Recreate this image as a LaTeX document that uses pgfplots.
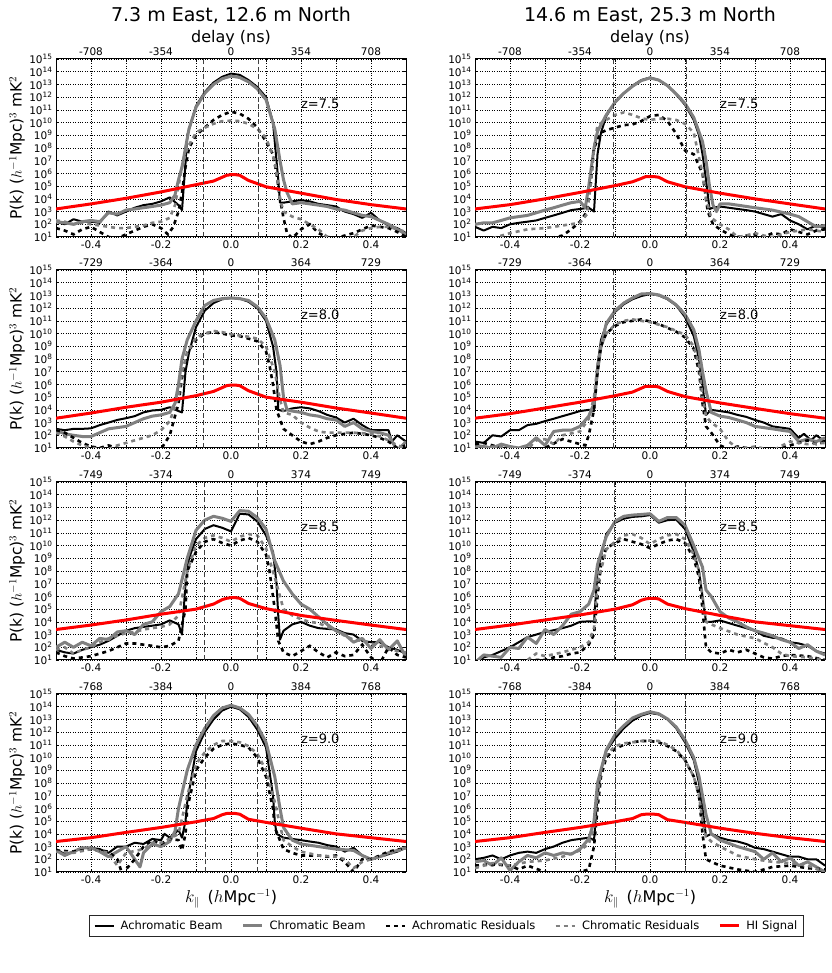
\documentclass[border=0pt]{standalone}
\usepackage{fontspec}
\setmainfont{DejaVu Sans}
\usepackage{pgfplots}
\pgfplotsset{compat=1.18}
\definecolor{mgray}{rgb}{0.5,0.5,0.5}
\pgfplotsset{legend image code/.code={\draw[#1] (0pt,0pt) -- (19pt,0pt);}}
\tikzset{
  sAB/.style={black, line width=2pt, line join=round},
  sCB/.style={mgray, line width=3pt, line join=round},
  sAR/.style={black, line width=2.6pt, dash pattern=on 4pt off 4pt},
  sCR/.style={mgray, line width=2.6pt, dash pattern=on 4pt off 4pt},
  sHI/.style={red, line width=3pt, line join=round},
  sVL/.style={black!75, line width=0.7pt, dash pattern=on 5pt off 2.5pt},
}

\begin{document}
\begin{tikzpicture}
\path[use as bounding box] (0pt,0pt) rectangle (831pt,973pt);

% ================= row 1 left, z = 7.5 =================
\begin{axis}[scale only axis, width=350pt, height=178pt, name=A1, at={(56pt,736pt)}, xmin=-0.5, xmax=0.5, ymode=log, ymin=10, ymax=1e15, xtick={-0.4,-0.3,-0.2,-0.1,0,0.1,0.2,0.3,0.4}, xticklabels={-0.4,,-0.2,,0.0,,0.2,,0.4}, ytick={1e1,1e2,1e3,1e4,1e5,1e6,1e7,1e8,1e9,1e10,1e11,1e12,1e13,1e14,1e15}, yticklabels={10\textsuperscript{1},10\textsuperscript{2},10\textsuperscript{3},10\textsuperscript{4},10\textsuperscript{5},10\textsuperscript{6},10\textsuperscript{7},10\textsuperscript{8},10\textsuperscript{9},10\textsuperscript{10},10\textsuperscript{11},10\textsuperscript{12},10\textsuperscript{13},10\textsuperscript{14},10\textsuperscript{15}}, xmajorgrids, ymajorgrids, major grid style={black, line width=0.5pt, dash pattern=on 0.8pt off 1.6pt}, axis line style={black, line width=1pt}, tick style={black, line width=0.6pt}, major tick length=3pt, minor y tick style={draw=none}, tick label style={font=\fontsize{10.5}{12}\selectfont}]
\addplot[sAB] coordinates {(-0.5,1.6e2) (-0.475,1e2) (-0.45,2.5e2) (-0.425,1.6e2) (-0.4,1.6e2) (-0.375,1.3e2) (-0.35,1e3) (-0.325,5e2) (-0.3,1e3) (-0.275,2e3) (-0.25,3.2e3) (-0.225,4e3) (-0.2,6.3e3) (-0.175,1.3e4) (-0.15,3.2e3) (-0.14,1.3e3) (-0.13,6.3e6) (-0.125,1e9) (-0.1,2e11) (-0.075,2.5e12) (-0.05,1.4e13) (-0.025,4e13) (0,7.1e13) (0.025,5.6e13) (0.05,2.2e13) (0.075,6.3e12) (0.1,1e12) (0.12,1e10) (0.13,1e7) (0.135,3.2e5) (0.14,5e3) (0.15,5e3) (0.175,6.3e3) (0.2,8e3) (0.225,6.3e3) (0.25,4e3) (0.275,3.2e3) (0.3,2.5e3) (0.325,1e3) (0.35,6.3e2) (0.375,3.2e2) (0.4,8e2) (0.425,2e2) (0.45,8e1) (0.475,5e1) (0.5,2e1)};
\addplot[sCB] coordinates {(-0.5,1.6e2) (-0.475,1.3e2) (-0.45,1e2) (-0.425,1.6e2) (-0.4,2e2) (-0.375,1.6e2) (-0.35,8e2) (-0.325,6.3e2) (-0.3,1.3e3) (-0.275,1.6e3) (-0.25,2e3) (-0.225,2.5e3) (-0.2,3.2e3) (-0.175,5e3) (-0.16,2e4) (-0.15,3.2e5) (-0.14,3.2e6) (-0.13,1e8) (-0.12,3.2e9) (-0.1,1.6e11) (-0.075,2e12) (-0.05,1e13) (-0.025,2.8e13) (0,4.5e13) (0.025,3.5e13) (0.05,1.6e13) (0.075,4.5e12) (0.1,6.3e11) (0.125,3.2e9) (0.14,1e7) (0.15,3.2e5) (0.16,3.2e4) (0.175,4e3) (0.2,5e3) (0.225,4e3) (0.25,3.2e3) (0.275,2.5e3) (0.3,1.6e3) (0.325,1.3e3) (0.35,8e2) (0.375,5e2) (0.4,4e2) (0.425,2e2) (0.45,1e2) (0.475,4e1) (0.5,1.6e1)};
\addplot[sAR] coordinates {(-0.5,5e1) (-0.475,3.2e1) (-0.45,1.6e1) (-0.425,4e1) (-0.4,6.3e1) (-0.375,2.5e1) (-0.35,1e1) (-0.325,8) (-0.3,1.6e1) (-0.275,3.2e1) (-0.25,6.3e1) (-0.225,1e2) (-0.2,5e1) (-0.18,1.6e1) (-0.165,6.3e1) (-0.15,1e3) (-0.14,3.2e4) (-0.13,3.2e6) (-0.12,1e8) (-0.1,1e9) (-0.075,4e9) (-0.05,1.6e10) (-0.025,4e10) (0,7.1e10) (0.025,5e10) (0.05,2e10) (0.075,4e9) (0.1,3.2e8) (0.12,3.2e7) (0.13,1e6) (0.14,1e4) (0.15,3.2e2) (0.16,2e1) (0.175,8) (0.2,4e1) (0.225,1e2) (0.25,2e1) (0.275,1e1) (0.3,8) (0.325,1.3e1) (0.35,2e1) (0.375,4e1) (0.4,8e1) (0.425,6.3e1) (0.45,5e1) (0.475,2.5e1) (0.5,1e1)};
\addplot[sCR] coordinates {(-0.5,2e2) (-0.475,1.6e2) (-0.45,1e2) (-0.425,1.3e2) (-0.4,1e2) (-0.375,8e1) (-0.35,6.3e1) (-0.325,5e1) (-0.3,5e1) (-0.275,6.3e1) (-0.25,8e1) (-0.225,1.3e2) (-0.2,1.6e2) (-0.175,3.2e2) (-0.16,3.2e3) (-0.15,1e5) (-0.14,3.2e6) (-0.125,1e8) (-0.1,1.6e9) (-0.075,4e9) (-0.05,8e9) (-0.025,1.3e10) (0,1.4e10) (0.025,1.3e10) (0.05,8e9) (0.075,3.2e9) (0.1,6.3e8) (0.125,1e7) (0.14,1e4) (0.15,1e3) (0.175,4e2) (0.2,2.5e2) (0.225,1e2) (0.25,4e1) (0.275,1e1) (0.3,6.3) (0.325,6.3) (0.35,1e1) (0.375,3.2e1) (0.4,5e1) (0.425,6.3e1) (0.45,6.3e1) (0.475,4e1) (0.5,2.5e1)};
\addplot[sHI] coordinates {(-0.5,1.6e3) (-0.4,4e3) (-0.3,1.1e4) (-0.2,3.5e4) (-0.1,1.3e5) (-0.05,2.5e5) (-0.025,5e5) (-0.0125,7.1e5) (0,8e5) (0.0125,8e5) (0.025,7.1e5) (0.05,2.8e5) (0.1,8.9e4) (0.2,2.8e4) (0.3,8.9e3) (0.4,3.5e3) (0.5,1.6e3)};
\addplot[sVL, forget plot] coordinates {(-0.079,10) (-0.079,1e15)};
\addplot[sVL, forget plot] coordinates {(0.079,10) (0.079,1e15)};
\node[font=\fontsize{13}{15}\selectfont] at (axis cs:0.255,3.2e11) {z=7.5};
\end{axis}
\begin{axis}[scale only axis, width=350pt, height=178pt, at={(56pt,736pt)}, xmin=-0.5, xmax=0.5, ymin=0, ymax=1, axis x line*=top, hide y axis, x axis line style={draw=none}, xtick={-0.4,-0.2,0,0.2,0.4}, xticklabels={-708,-354,0,354,708}, xtick style={draw=none}, tick label style={font=\fontsize{10.5}{12}\selectfont}]
\end{axis}

% ================= row 1 right, z = 7.5 =================
\begin{axis}[scale only axis, width=350pt, height=178pt, name=A2, at={(475pt,736pt)}, xmin=-0.5, xmax=0.5, ymode=log, ymin=10, ymax=1e15, xtick={-0.4,-0.3,-0.2,-0.1,0,0.1,0.2,0.3,0.4}, xticklabels={-0.4,,-0.2,,0.0,,0.2,,0.4}, ytick={1e1,1e2,1e3,1e4,1e5,1e6,1e7,1e8,1e9,1e10,1e11,1e12,1e13,1e14,1e15}, yticklabels={10\textsuperscript{1},10\textsuperscript{2},10\textsuperscript{3},10\textsuperscript{4},10\textsuperscript{5},10\textsuperscript{6},10\textsuperscript{7},10\textsuperscript{8},10\textsuperscript{9},10\textsuperscript{10},10\textsuperscript{11},10\textsuperscript{12},10\textsuperscript{13},10\textsuperscript{14},10\textsuperscript{15}}, xmajorgrids, ymajorgrids, major grid style={black, line width=0.5pt, dash pattern=on 0.8pt off 1.6pt}, axis line style={black, line width=1pt}, tick style={black, line width=0.6pt}, major tick length=3pt, minor y tick style={draw=none}, tick label style={font=\fontsize{10.5}{12}\selectfont}]
\addplot[sAB] coordinates {(-0.5,6.3e1) (-0.475,3.2e1) (-0.45,6.3e1) (-0.425,5e1) (-0.4,1e2) (-0.375,1.3e2) (-0.35,1.6e2) (-0.325,2e2) (-0.3,3.2e2) (-0.275,5e2) (-0.25,8e2) (-0.225,1.3e3) (-0.2,1.6e3) (-0.175,2e3) (-0.16,1e3) (-0.15,3.2e7) (-0.14,1.6e9) (-0.125,3.2e10) (-0.1,4e11) (-0.075,2e12) (-0.05,8e12) (-0.025,2.2e13) (0,3.5e13) (0.025,2.2e13) (0.05,8e12) (0.075,1.6e12) (0.1,2.5e11) (0.125,1.6e10) (0.14,1e9) (0.15,3.2e7) (0.16,3.2e5) (0.17,1.6e3) (0.18,2e3) (0.2,2.5e3) (0.225,2e3) (0.25,1.6e3) (0.275,1.3e3) (0.3,1e3) (0.325,6.3e2) (0.35,4e2) (0.375,6.3e2) (0.4,2e2) (0.425,1e2) (0.45,4e1) (0.475,8e1) (0.5,5e1)};
\addplot[sCB] coordinates {(-0.5,1e2) (-0.475,1.3e2) (-0.45,1.3e2) (-0.425,2e2) (-0.4,3.2e2) (-0.375,4e2) (-0.35,5e2) (-0.325,8e2) (-0.3,1.3e3) (-0.275,2e3) (-0.25,3.2e3) (-0.225,5e3) (-0.2,6.3e3) (-0.185,2e3) (-0.175,1e5) (-0.16,1e8) (-0.15,2e9) (-0.125,4e10) (-0.1,4e11) (-0.075,2e12) (-0.05,7.1e12) (-0.025,2e13) (0,3.2e13) (0.025,2.2e13) (0.05,8e12) (0.075,1.8e12) (0.1,3.2e11) (0.125,2.5e10) (0.15,3.2e8) (0.16,1e7) (0.17,1e5) (0.18,3.2e3) (0.19,1e3) (0.2,4e3) (0.225,4e3) (0.25,3.2e3) (0.3,2e3) (0.35,1.3e3) (0.4,6.3e2) (0.425,4e2) (0.45,1.6e2) (0.475,6.3e1) (0.5,8e1)};
\addplot[sAR] coordinates {(-0.35,4) (-0.3,6.3) (-0.25,1.3e1) (-0.225,4e1) (-0.2,1.6e2) (-0.18,1e3) (-0.17,1e5) (-0.16,1e8) (-0.14,1.6e9) (-0.125,2.5e9) (-0.1,4e9) (-0.075,6.3e9) (-0.05,7.1e9) (-0.025,1.3e10) (0,3.2e10) (0.025,4e10) (0.05,1.3e10) (0.075,1.3e9) (0.1,6.3e7) (0.125,3.2e7) (0.15,1e6) (0.165,1e3) (0.18,1e2) (0.2,4e1) (0.225,1.6e1) (0.25,1e1) (0.275,1.3e1) (0.3,1.6e1) (0.325,1e1) (0.35,2e1) (0.375,1.6e1) (0.4,4e1) (0.425,2.5e1) (0.45,1.6e1) (0.475,3.2e1) (0.5,4e1)};
\addplot[sCR] coordinates {(-0.45,8) (-0.4,2e1) (-0.35,4e1) (-0.3,5e1) (-0.25,8e1) (-0.2,1.3e2) (-0.18,6.3e2) (-0.17,1e5) (-0.16,1e8) (-0.15,6.3e9) (-0.125,1.6e10) (-0.1,4e10) (-0.075,6.3e10) (-0.05,4e10) (-0.025,2.2e10) (0,1.6e10) (0.025,2e10) (0.05,2e10) (0.075,1.6e10) (0.1,8e9) (0.125,1.6e9) (0.15,1e6) (0.16,1e4) (0.175,3.2e2) (0.2,1e2) (0.225,4e1) (0.25,1e1) (0.275,1.3e1) (0.3,2e1) (0.325,1.3e1) (0.35,1e1) (0.4,2.5e1) (0.45,4e1) (0.5,2.5e1)};
\addplot[sHI] coordinates {(-0.5,1.6e3) (-0.4,3.5e3) (-0.3,1e4) (-0.2,3.2e4) (-0.1,1.1e5) (-0.05,2.2e5) (-0.025,4e5) (-0.0125,5.6e5) (0,5.6e5) (0.0125,5.6e5) (0.025,5e5) (0.05,2.2e5) (0.1,8.9e4) (0.2,2.8e4) (0.3,1e4) (0.4,4e3) (0.5,1.6e3)};
\addplot[sVL, forget plot] coordinates {(-0.104,10) (-0.104,1e15)};
\addplot[sVL, forget plot] coordinates {(0.104,10) (0.104,1e15)};
\node[font=\fontsize{13}{15}\selectfont] at (axis cs:0.255,3.2e11) {z=7.5};
\end{axis}
\begin{axis}[scale only axis, width=350pt, height=178pt, at={(475pt,736pt)}, xmin=-0.5, xmax=0.5, ymin=0, ymax=1, axis x line*=top, hide y axis, x axis line style={draw=none}, xtick={-0.4,-0.2,0,0.2,0.4}, xticklabels={-708,-354,0,354,708}, xtick style={draw=none}, tick label style={font=\fontsize{10.5}{12}\selectfont}]
\end{axis}

% ================= row 2 left, z = 8.0 =================
\begin{axis}[scale only axis, width=350pt, height=178pt, name=A3, at={(56pt,525pt)}, xmin=-0.5, xmax=0.5, ymode=log, ymin=10, ymax=1e15, xtick={-0.4,-0.3,-0.2,-0.1,0,0.1,0.2,0.3,0.4}, xticklabels={-0.4,,-0.2,,0.0,,0.2,,0.4}, ytick={1e1,1e2,1e3,1e4,1e5,1e6,1e7,1e8,1e9,1e10,1e11,1e12,1e13,1e14,1e15}, yticklabels={10\textsuperscript{1},10\textsuperscript{2},10\textsuperscript{3},10\textsuperscript{4},10\textsuperscript{5},10\textsuperscript{6},10\textsuperscript{7},10\textsuperscript{8},10\textsuperscript{9},10\textsuperscript{10},10\textsuperscript{11},10\textsuperscript{12},10\textsuperscript{13},10\textsuperscript{14},10\textsuperscript{15}}, xmajorgrids, ymajorgrids, major grid style={black, line width=0.5pt, dash pattern=on 0.8pt off 1.6pt}, axis line style={black, line width=1pt}, tick style={black, line width=0.6pt}, major tick length=3pt, minor y tick style={draw=none}, tick label style={font=\fontsize{10.5}{12}\selectfont}]
\addplot[sAB] coordinates {(-0.5,3.2e2) (-0.475,2.5e2) (-0.45,3.2e2) (-0.425,3.2e2) (-0.4,3.5e2) (-0.375,6.3e2) (-0.35,1e3) (-0.325,1.6e3) (-0.3,2.2e3) (-0.275,3.2e3) (-0.25,6.3e3) (-0.225,8.9e3) (-0.2,1e4) (-0.175,1.6e4) (-0.15,8e3) (-0.14,6.3e3) (-0.13,1e7) (-0.12,3.2e8) (-0.1,3.2e10) (-0.075,6.3e11) (-0.05,2.5e12) (-0.025,5e12) (0,6.3e12) (0.025,5.6e12) (0.05,3.2e12) (0.075,1e12) (0.1,1e11) (0.12,1e9) (0.13,1e7) (0.135,1e4) (0.15,8e3) (0.175,1.3e4) (0.2,1.6e4) (0.225,1.3e4) (0.25,8e3) (0.275,4e3) (0.3,2.5e3) (0.325,1e3) (0.35,2e3) (0.375,6.3e2) (0.4,2.5e2) (0.425,2.5e2) (0.45,2.5e2) (0.46,3.2e1) (0.475,1e2) (0.5,3.2e1)};
\addplot[sCB] coordinates {(-0.5,2.5e2) (-0.475,1.3e2) (-0.45,1e2) (-0.425,8e1) (-0.4,8e1) (-0.375,1.6e2) (-0.35,3.2e2) (-0.325,4e2) (-0.3,5e2) (-0.275,1e3) (-0.25,2e3) (-0.225,3.2e3) (-0.2,4e3) (-0.175,6.3e3) (-0.16,3.2e4) (-0.15,1e6) (-0.14,1e8) (-0.125,3.2e9) (-0.1,1e11) (-0.075,1.6e12) (-0.05,4e12) (-0.025,5.6e12) (0,6.3e12) (0.025,5.6e12) (0.05,4e12) (0.075,1.3e12) (0.1,1.6e11) (0.125,3.2e9) (0.14,3.2e7) (0.15,1e5) (0.16,1e4) (0.175,8e3) (0.2,6.3e3) (0.225,4e3) (0.25,3.2e3) (0.275,2e3) (0.3,1.6e3) (0.325,5e2) (0.35,1e3) (0.375,3.2e2) (0.4,2e2) (0.425,1.6e2) (0.45,1e2) (0.475,6.3) (0.5,3.2e1)};
\addplot[sAR] coordinates {(-0.5,2.5e2) (-0.475,1.6e2) (-0.45,6.3e1) (-0.425,2.5e1) (-0.4,1.3e1) (-0.375,1e1) (-0.35,1.6e1) (-0.325,1e1) (-0.3,6.3) (-0.25,8) (-0.2,8) (-0.175,1e2) (-0.15,3.2e4) (-0.14,3.2e6) (-0.125,3.2e8) (-0.1,3.2e9) (-0.075,1e10) (-0.05,1.3e10) (-0.025,1e10) (0,7.1e9) (0.025,6.3e9) (0.05,4e9) (0.075,2.5e9) (0.1,4e8) (0.11,3.2e7) (0.12,1e6) (0.13,1e4) (0.15,3.2e2) (0.175,1e2) (0.2,3.2e1) (0.225,2e1) (0.25,3.2e1) (0.275,6.3e1) (0.3,1e2) (0.325,1.3e2) (0.35,1.6e2) (0.375,1.3e2) (0.4,1e2) (0.425,6.3e1) (0.45,3.2e1) (0.475,1e1) (0.5,1.6e1)};
\addplot[sCR] coordinates {(-0.5,1.6e2) (-0.475,8e1) (-0.45,3.2e1) (-0.425,1.6e1) (-0.4,1e1) (-0.35,8) (-0.325,1.6e1) (-0.3,2.5e1) (-0.275,4e1) (-0.25,6.3e1) (-0.225,1e2) (-0.2,2.5e2) (-0.175,1.3e3) (-0.15,1e5) (-0.14,1e7) (-0.125,3.2e8) (-0.1,5e9) (-0.075,1e10) (-0.05,1.6e10) (-0.025,1.3e10) (0,8.9e9) (0.025,7.1e9) (0.05,5.6e9) (0.075,4e9) (0.1,1e9) (0.125,1e7) (0.14,6.3e4) (0.15,6.3e3) (0.175,4e3) (0.2,1e3) (0.225,4e2) (0.25,2e2) (0.275,1.6e2) (0.3,1.6e2) (0.35,1.6e2) (0.4,1.3e2) (0.425,8e1) (0.45,4e1) (0.475,1.6e1) (0.5,1e1)};
\addplot[sHI] coordinates {(-0.5,2.2e3) (-0.4,5.6e3) (-0.3,1.6e4) (-0.2,4e4) (-0.1,1.3e5) (-0.05,2.8e5) (-0.025,5.6e5) (-0.0125,8e5) (0,8.9e5) (0.0125,8.9e5) (0.025,8e5) (0.05,3.2e5) (0.1,1e5) (0.2,4e4) (0.3,1.4e4) (0.4,5.6e3) (0.5,2.2e3)};
\addplot[sVL, forget plot] coordinates {(-0.078,10) (-0.078,1e15)};
\addplot[sVL, forget plot] coordinates {(0.078,10) (0.078,1e15)};
\node[font=\fontsize{13}{15}\selectfont] at (axis cs:0.255,3.2e11) {z=8.0};
\end{axis}
\begin{axis}[scale only axis, width=350pt, height=178pt, at={(56pt,525pt)}, xmin=-0.5, xmax=0.5, ymin=0, ymax=1, axis x line*=top, hide y axis, x axis line style={draw=none}, xtick={-0.4,-0.2,0,0.2,0.4}, xticklabels={-729,-364,0,364,729}, xtick style={draw=none}, tick label style={font=\fontsize{10.5}{12}\selectfont}]
\end{axis}

% ================= row 2 right, z = 8.0 =================
\begin{axis}[scale only axis, width=350pt, height=178pt, name=A4, at={(475pt,525pt)}, xmin=-0.5, xmax=0.5, ymode=log, ymin=10, ymax=1e15, xtick={-0.4,-0.3,-0.2,-0.1,0,0.1,0.2,0.3,0.4}, xticklabels={-0.4,,-0.2,,0.0,,0.2,,0.4}, ytick={1e1,1e2,1e3,1e4,1e5,1e6,1e7,1e8,1e9,1e10,1e11,1e12,1e13,1e14,1e15}, yticklabels={10\textsuperscript{1},10\textsuperscript{2},10\textsuperscript{3},10\textsuperscript{4},10\textsuperscript{5},10\textsuperscript{6},10\textsuperscript{7},10\textsuperscript{8},10\textsuperscript{9},10\textsuperscript{10},10\textsuperscript{11},10\textsuperscript{12},10\textsuperscript{13},10\textsuperscript{14},10\textsuperscript{15}}, xmajorgrids, ymajorgrids, major grid style={black, line width=0.5pt, dash pattern=on 0.8pt off 1.6pt}, axis line style={black, line width=1pt}, tick style={black, line width=0.6pt}, major tick length=3pt, minor y tick style={draw=none}, tick label style={font=\fontsize{10.5}{12}\selectfont}]
\addplot[sAB] coordinates {(-0.5,3.2e1) (-0.475,2.5e1) (-0.45,1e2) (-0.425,8e1) (-0.4,2.5e2) (-0.375,2.5e2) (-0.35,6.3e2) (-0.325,8e2) (-0.3,1.3e3) (-0.275,2e3) (-0.25,3.2e3) (-0.225,5e3) (-0.2,8e3) (-0.175,1e4) (-0.16,8e3) (-0.15,3.2e7) (-0.14,3.2e9) (-0.125,5e10) (-0.1,5e11) (-0.075,2e12) (-0.05,5e12) (-0.025,8.9e12) (0,1.3e13) (0.025,1e13) (0.05,5e12) (0.075,1.6e12) (0.1,2e11) (0.125,6.3e9) (0.14,1e8) (0.15,1e6) (0.16,4e3) (0.175,1e4) (0.2,8e3) (0.225,6.3e3) (0.25,4e3) (0.275,2.8e3) (0.3,1.6e3) (0.325,1e3) (0.35,5e2) (0.375,4e2) (0.4,3.2e2) (0.425,6.3e1) (0.44,1.3e2) (0.46,4e1) (0.475,1e2) (0.5,3.2e1)};
\addplot[sCB] coordinates {(-0.5,1.6e1) (-0.475,1.3e1) (-0.45,1e1) (-0.425,2e1) (-0.4,1.3e1) (-0.375,1e1) (-0.35,1.6e1) (-0.325,6.3e1) (-0.3,1.6e1) (-0.275,2e2) (-0.25,2.5e2) (-0.225,2.5e2) (-0.2,5e2) (-0.175,3.2e3) (-0.16,3.2e4) (-0.15,1e7) (-0.14,1e9) (-0.125,6.3e10) (-0.1,6.3e11) (-0.075,2.5e12) (-0.05,6.3e12) (-0.025,1.3e13) (0,1.4e13) (0.025,1.1e13) (0.05,5.6e12) (0.075,1.8e12) (0.1,3.2e11) (0.125,2e10) (0.14,5e8) (0.15,1e7) (0.16,3.2e5) (0.175,6.3e3) (0.2,3.2e3) (0.225,2.5e3) (0.25,1.6e3) (0.275,1e3) (0.3,5e2) (0.325,4e2) (0.35,3.2e2) (0.375,2.5e2) (0.4,2e2) (0.425,3.2e1) (0.45,5e1) (0.475,3.2e1) (0.5,6.3e1)};
\addplot[sAR] coordinates {(-0.5,2e1) (-0.475,2.5e1) (-0.45,1.6e1) (-0.425,1e1) (-0.4,8) (-0.35,6.3) (-0.3,1e1) (-0.25,5e1) (-0.225,3.2e1) (-0.2,2e1) (-0.185,1.6e1) (-0.175,1e2) (-0.16,1e4) (-0.15,1e7) (-0.14,1e9) (-0.125,1e10) (-0.1,4e10) (-0.075,8e10) (-0.05,1e11) (-0.025,1.3e11) (0,8.9e10) (0.025,5.6e10) (0.05,2.8e10) (0.075,1.4e10) (0.1,5e9) (0.125,6.3e8) (0.14,1e7) (0.15,3.2e4) (0.16,5e2) (0.175,1.6e2) (0.2,1.6e1) (0.225,8) (0.25,1.3e1) (0.275,1e1) (0.3,1e1) (0.35,6.3) (0.4,1.6e1) (0.45,4e1) (0.475,2e1) (0.5,3.2e1)};
\addplot[sCR] coordinates {(-0.5,1e1) (-0.45,1.3e1) (-0.4,1e1) (-0.35,8) (-0.325,4e1) (-0.3,5e1) (-0.275,2e1) (-0.25,1e2) (-0.2,2e2) (-0.175,2e3) (-0.16,1e5) (-0.15,3.2e7) (-0.14,1e9) (-0.125,1e10) (-0.1,5e10) (-0.075,1e11) (-0.05,1.3e11) (-0.025,1e11) (0,8e10) (0.025,5e10) (0.05,3.2e10) (0.075,1.6e10) (0.1,8e9) (0.125,1e9) (0.14,3.2e7) (0.15,1e5) (0.16,3.2e3) (0.175,1e3) (0.2,3.2e2) (0.225,3.2e1) (0.25,1e1) (0.275,1e1) (0.3,1.3e1) (0.35,6.3) (0.4,3.2e1) (0.45,2e1) (0.5,2.5e1)};
\addplot[sHI] coordinates {(-0.5,2.2e3) (-0.4,5e3) (-0.3,1.4e4) (-0.2,4e4) (-0.1,1.3e5) (-0.05,2.5e5) (-0.025,5e5) (-0.0125,7.1e5) (0,7.1e5) (0.0125,7.1e5) (0.025,6.3e5) (0.05,2.8e5) (0.1,1.1e5) (0.2,3.5e4) (0.3,1.3e4) (0.4,5e3) (0.5,2.2e3)};
\addplot[sVL, forget plot] coordinates {(-0.104,10) (-0.104,1e15)};
\addplot[sVL, forget plot] coordinates {(0.104,10) (0.104,1e15)};
\node[font=\fontsize{13}{15}\selectfont] at (axis cs:0.255,3.2e11) {z=8.0};
\end{axis}
\begin{axis}[scale only axis, width=350pt, height=178pt, at={(475pt,525pt)}, xmin=-0.5, xmax=0.5, ymin=0, ymax=1, axis x line*=top, hide y axis, x axis line style={draw=none}, xtick={-0.4,-0.2,0,0.2,0.4}, xticklabels={-729,-364,0,364,729}, xtick style={draw=none}, tick label style={font=\fontsize{10.5}{12}\selectfont}]
\end{axis}

% ================= row 3 left, z = 8.5 =================
\begin{axis}[scale only axis, width=350pt, height=178pt, name=A5, at={(56pt,313pt)}, xmin=-0.5, xmax=0.5, ymode=log, ymin=10, ymax=1e15, xtick={-0.4,-0.3,-0.2,-0.1,0,0.1,0.2,0.3,0.4}, xticklabels={-0.4,,-0.2,,0.0,,0.2,,0.4}, ytick={1e1,1e2,1e3,1e4,1e5,1e6,1e7,1e8,1e9,1e10,1e11,1e12,1e13,1e14,1e15}, yticklabels={10\textsuperscript{1},10\textsuperscript{2},10\textsuperscript{3},10\textsuperscript{4},10\textsuperscript{5},10\textsuperscript{6},10\textsuperscript{7},10\textsuperscript{8},10\textsuperscript{9},10\textsuperscript{10},10\textsuperscript{11},10\textsuperscript{12},10\textsuperscript{13},10\textsuperscript{14},10\textsuperscript{15}}, xmajorgrids, ymajorgrids, major grid style={black, line width=0.5pt, dash pattern=on 0.8pt off 1.6pt}, axis line style={black, line width=1pt}, tick style={black, line width=0.6pt}, major tick length=3pt, minor y tick style={draw=none}, tick label style={font=\fontsize{10.5}{12}\selectfont}]
\addplot[sAB] coordinates {(-0.5,6.3e1) (-0.475,4e1) (-0.45,3.2e1) (-0.425,6.3e1) (-0.4,1e2) (-0.375,1.6e2) (-0.35,3.2e2) (-0.325,8e2) (-0.3,2e3) (-0.275,3.2e3) (-0.25,4e3) (-0.225,5e3) (-0.2,6.3e3) (-0.175,1.3e4) (-0.15,6.3e3) (-0.14,1e3) (-0.13,1e7) (-0.12,1e9) (-0.1,3.2e10) (-0.075,2e11) (-0.05,4e11) (-0.025,2.5e11) (0,1.3e11) (0.025,3.2e12) (0.05,2.8e12) (0.075,8e11) (0.1,6.3e10) (0.12,3.2e9) (0.13,1e7) (0.135,3.2e4) (0.14,4e2) (0.15,2e3) (0.175,6.3e3) (0.2,1e4) (0.225,5e3) (0.25,3.2e3) (0.275,2.8e3) (0.3,2.5e3) (0.325,1.3e3) (0.35,1e3) (0.375,3.2e2) (0.4,2.5e2) (0.425,2.5e2) (0.45,1e2) (0.475,6.3e1) (0.5,3.2e1)};
\addplot[sCB] coordinates {(-0.5,1e2) (-0.475,2.5e2) (-0.45,1e2) (-0.425,2.5e2) (-0.4,1.3e2) (-0.375,5e2) (-0.35,4e2) (-0.325,1.6e3) (-0.3,2e3) (-0.275,1e3) (-0.25,6.3e3) (-0.225,1e4) (-0.2,6.3e4) (-0.175,1.6e5) (-0.15,1.6e6) (-0.125,1e9) (-0.1,1.6e11) (-0.075,1e12) (-0.05,2e12) (-0.025,1.4e12) (0,8e11) (0.025,5.6e12) (0.05,5e12) (0.075,1.6e12) (0.1,2e11) (0.125,6.3e8) (0.15,1.6e7) (0.175,1.6e6) (0.2,2.5e5) (0.225,1e5) (0.25,2.5e4) (0.275,6.3e3) (0.3,2e3) (0.325,1e3) (0.35,2.5e2) (0.375,5e2) (0.4,8e1) (0.425,4e2) (0.45,6.3e1) (0.475,3.2e2) (0.5,1.6e1)};
\addplot[sAR] coordinates {(-0.5,4e1) (-0.475,2e1) (-0.45,1.3e1) (-0.425,1.6e1) (-0.4,2e1) (-0.375,3.2e1) (-0.35,5e1) (-0.325,1e2) (-0.3,2e2) (-0.275,2e2) (-0.25,1.6e2) (-0.225,1.3e2) (-0.2,1e2) (-0.175,1.3e2) (-0.15,3.2e2) (-0.13,1e5) (-0.125,1e8) (-0.1,3.2e9) (-0.075,2e10) (-0.05,3.2e10) (-0.025,1.6e10) (0,1e10) (0.025,2.5e10) (0.05,4e10) (0.075,2e10) (0.1,2e9) (0.11,1e8) (0.125,1e5) (0.135,3.2e2) (0.15,4e1) (0.175,2e1) (0.2,5e1) (0.225,1.3e2) (0.25,4e1) (0.275,1.6e1) (0.3,4e1) (0.325,2e1) (0.35,2.5e1) (0.375,1.6e2) (0.4,1.6e1) (0.425,5) (0.45,1e2) (0.475,2.5e1) (0.5,1.6e1)};
\addplot[sCR] coordinates {(-0.5,6.3e1) (-0.475,1e2) (-0.45,3.2e1) (-0.425,6.3e1) (-0.4,1e2) (-0.375,2.5e2) (-0.35,5e2) (-0.325,8e2) (-0.3,1.3e3) (-0.275,1.6e3) (-0.25,2.5e3) (-0.225,3.2e3) (-0.2,4e3) (-0.175,6.3e3) (-0.15,3.2e4) (-0.125,1e8) (-0.1,1e10) (-0.075,4e10) (-0.05,6.3e10) (-0.025,4e10) (0,2e10) (0.025,5e10) (0.05,8e10) (0.075,6.3e10) (0.1,6.3e9) (0.125,3.2e7) (0.15,1e5) (0.175,3.2e4) (0.2,1.6e4) (0.225,1e4) (0.25,8e3) (0.275,4e3) (0.3,2e3) (0.325,8e2) (0.35,4e2) (0.375,3.2e2) (0.4,2e2) (0.425,1.3e2) (0.45,8e1) (0.475,5e1) (0.5,4e1)};
\addplot[sHI] coordinates {(-0.5,2.5e3) (-0.4,5.6e3) (-0.3,1.4e4) (-0.2,4e4) (-0.1,1e5) (-0.05,2.5e5) (-0.025,5.6e5) (-0.0125,7.1e5) (0,8e5) (0.0125,8e5) (0.025,7.1e5) (0.05,2.8e5) (0.1,1.1e5) (0.2,3.2e4) (0.3,1.3e4) (0.4,5.6e3) (0.5,2.5e3)};
\addplot[sVL, forget plot] coordinates {(-0.076,10) (-0.076,1e15)};
\addplot[sVL, forget plot] coordinates {(0.076,10) (0.076,1e15)};
\node[font=\fontsize{13}{15}\selectfont] at (axis cs:0.255,3.2e11) {z=8.5};
\end{axis}
\begin{axis}[scale only axis, width=350pt, height=178pt, at={(56pt,313pt)}, xmin=-0.5, xmax=0.5, ymin=0, ymax=1, axis x line*=top, hide y axis, x axis line style={draw=none}, xtick={-0.4,-0.2,0,0.2,0.4}, xticklabels={-749,-374,0,374,749}, xtick style={draw=none}, tick label style={font=\fontsize{10.5}{12}\selectfont}]
\end{axis}

% ================= row 3 right, z = 8.5 =================
\begin{axis}[scale only axis, width=350pt, height=178pt, name=A6, at={(475pt,313pt)}, xmin=-0.5, xmax=0.5, ymode=log, ymin=10, ymax=1e15, xtick={-0.4,-0.3,-0.2,-0.1,0,0.1,0.2,0.3,0.4}, xticklabels={-0.4,,-0.2,,0.0,,0.2,,0.4}, ytick={1e1,1e2,1e3,1e4,1e5,1e6,1e7,1e8,1e9,1e10,1e11,1e12,1e13,1e14,1e15}, yticklabels={10\textsuperscript{1},10\textsuperscript{2},10\textsuperscript{3},10\textsuperscript{4},10\textsuperscript{5},10\textsuperscript{6},10\textsuperscript{7},10\textsuperscript{8},10\textsuperscript{9},10\textsuperscript{10},10\textsuperscript{11},10\textsuperscript{12},10\textsuperscript{13},10\textsuperscript{14},10\textsuperscript{15}}, xmajorgrids, ymajorgrids, major grid style={black, line width=0.5pt, dash pattern=on 0.8pt off 1.6pt}, axis line style={black, line width=1pt}, tick style={black, line width=0.6pt}, major tick length=3pt, minor y tick style={draw=none}, tick label style={font=\fontsize{10.5}{12}\selectfont}]
\addplot[sAB] coordinates {(-0.5,6.3) (-0.475,1.6e1) (-0.45,2.5e1) (-0.425,5e1) (-0.4,1e2) (-0.375,2.5e2) (-0.35,6.3e2) (-0.325,1e3) (-0.3,1.6e3) (-0.275,2.2e3) (-0.25,3.2e3) (-0.225,5e3) (-0.2,1e4) (-0.175,1.1e4) (-0.16,1.1e4) (-0.15,1e8) (-0.125,8e10) (-0.1,6.3e11) (-0.075,1.3e12) (-0.05,1.8e12) (-0.025,2e12) (0,2.5e12) (0.025,6.3e11) (0.05,1e12) (0.075,1.1e12) (0.1,2e11) (0.125,3.2e9) (0.14,1e8) (0.15,1e6) (0.16,1e4) (0.175,1e4) (0.2,1.3e4) (0.225,8e3) (0.25,5e3) (0.275,3.2e3) (0.3,2e3) (0.325,8e2) (0.35,5.6e2) (0.375,5e2) (0.4,2.5e2) (0.425,2e2) (0.45,1.3e2) (0.475,5e1) (0.5,3.2e1)};
\addplot[sCB] coordinates {(-0.5,6.3) (-0.475,2.5e1) (-0.45,2e1) (-0.425,1.6e1) (-0.4,1e2) (-0.375,8e1) (-0.35,6.3e2) (-0.325,2e2) (-0.3,2.5e3) (-0.275,1e3) (-0.25,5e3) (-0.225,4e4) (-0.2,6.3e4) (-0.175,2.5e5) (-0.16,3.2e6) (-0.15,3.2e8) (-0.125,5e10) (-0.1,8e11) (-0.075,2e12) (-0.05,2.5e12) (-0.025,2.8e12) (0,3.2e12) (0.025,8e11) (0.05,1.6e12) (0.075,1.6e12) (0.1,4e11) (0.125,1e10) (0.15,2e8) (0.16,3.2e6) (0.175,1e6) (0.2,6.3e4) (0.225,2e4) (0.25,1e4) (0.275,4e3) (0.3,2e3) (0.325,1.3e3) (0.35,8e2) (0.375,4e2) (0.4,2.5e2) (0.425,8e1) (0.45,1.6e2) (0.475,5e1) (0.5,2.5e1)};
\addplot[sAR] coordinates {(-0.35,8) (-0.325,1e1) (-0.3,1e1) (-0.275,1.6e1) (-0.25,2e1) (-0.225,3.2e1) (-0.2,4e1) (-0.175,1.6e2) (-0.16,1e3) (-0.15,1e6) (-0.14,3.2e8) (-0.125,6.3e9) (-0.1,1.6e10) (-0.075,3.2e10) (-0.05,2e10) (-0.025,1.3e10) (0,6.3e9) (0.025,1.3e10) (0.05,2.5e10) (0.075,3.2e10) (0.1,1.6e10) (0.125,1e9) (0.14,3.2e7) (0.15,1e5) (0.16,1e2) (0.175,4e1) (0.2,3.2e1) (0.225,6.3e1) (0.25,4e1) (0.275,6.3e1) (0.3,3.2e1) (0.325,1.6e1) (0.35,1.3e1) (0.375,2e1) (0.4,2.5e1) (0.45,2e1) (0.5,1e1)};
\addplot[sCR] coordinates {(-0.35,1e1) (-0.325,3.2e1) (-0.3,2e1) (-0.25,4e1) (-0.2,1e2) (-0.175,2.5e2) (-0.16,3.2e3) (-0.15,1e7) (-0.125,5e9) (-0.1,2e10) (-0.075,6.3e10) (-0.05,8e10) (-0.025,4e10) (0,1.3e10) (0.025,3.2e10) (0.05,6.3e10) (0.075,8e10) (0.1,3.2e10) (0.125,2e9) (0.14,1e8) (0.15,1e6) (0.16,1e4) (0.175,6.3e3) (0.2,3.2e3) (0.25,1e3) (0.3,5e2) (0.35,1e2) (0.375,3.2e1) (0.4,2e1) (0.45,1.6e1) (0.5,1e1)};
\addplot[sHI] coordinates {(-0.5,2.5e3) (-0.4,5.6e3) (-0.3,1.4e4) (-0.2,3.5e4) (-0.1,1e5) (-0.05,2.2e5) (-0.025,5e5) (-0.0125,6.3e5) (0,7.1e5) (0.0125,7.1e5) (0.025,6.3e5) (0.05,2.5e5) (0.1,1.1e5) (0.2,3.2e4) (0.3,1e4) (0.4,5e3) (0.5,2.5e3)};
\addplot[sVL, forget plot] coordinates {(-0.101,10) (-0.101,1e15)};
\addplot[sVL, forget plot] coordinates {(0.101,10) (0.101,1e15)};
\node[font=\fontsize{13}{15}\selectfont] at (axis cs:0.255,3.2e11) {z=8.5};
\end{axis}
\begin{axis}[scale only axis, width=350pt, height=178pt, at={(475pt,313pt)}, xmin=-0.5, xmax=0.5, ymin=0, ymax=1, axis x line*=top, hide y axis, x axis line style={draw=none}, xtick={-0.4,-0.2,0,0.2,0.4}, xticklabels={-749,-374,0,374,749}, xtick style={draw=none}, tick label style={font=\fontsize{10.5}{12}\selectfont}]
\end{axis}

% ================= row 4 left, z = 9.0 =================
\begin{axis}[scale only axis, width=350pt, height=178pt, name=A7, at={(56pt,101pt)}, xmin=-0.5, xmax=0.5, ymode=log, ymin=10, ymax=1e15, xtick={-0.4,-0.3,-0.2,-0.1,0,0.1,0.2,0.3,0.4}, xticklabels={-0.4,,-0.2,,0.0,,0.2,,0.4}, ytick={1e1,1e2,1e3,1e4,1e5,1e6,1e7,1e8,1e9,1e10,1e11,1e12,1e13,1e14,1e15}, yticklabels={10\textsuperscript{1},10\textsuperscript{2},10\textsuperscript{3},10\textsuperscript{4},10\textsuperscript{5},10\textsuperscript{6},10\textsuperscript{7},10\textsuperscript{8},10\textsuperscript{9},10\textsuperscript{10},10\textsuperscript{11},10\textsuperscript{12},10\textsuperscript{13},10\textsuperscript{14},10\textsuperscript{15}}, xmajorgrids, ymajorgrids, major grid style={black, line width=0.5pt, dash pattern=on 0.8pt off 1.6pt}, axis line style={black, line width=1pt}, tick style={black, line width=0.6pt}, major tick length=3pt, minor y tick style={draw=none}, tick label style={font=\fontsize{10.5}{12}\selectfont},
  legend columns=5,
  legend style={at={(1.1157,-0.303)}, anchor=center, font=\fontsize{11.5}{13.5}\selectfont, draw=black!85, line width=0.8pt, inner xsep=4pt, inner ysep=3pt, /tikz/every odd column/.append style={column sep=4pt}, /tikz/every even column/.append style={column sep=17pt}}]
\addplot[sAB] coordinates {(-0.5,6.3e2) (-0.475,2.5e2) (-0.45,4e2) (-0.425,8e2) (-0.4,8e2) (-0.375,6.3e2) (-0.35,3.2e2) (-0.325,1e3) (-0.3,1e3) (-0.275,2e3) (-0.25,1.6e3) (-0.225,4e3) (-0.2,3.2e3) (-0.19,1e4) (-0.175,5e3) (-0.15,2e4) (-0.14,5e3) (-0.13,1e5) (-0.125,3.2e6) (-0.1,3.2e10) (-0.075,1e12) (-0.05,1e13) (-0.025,5e13) (0,1e14) (0.025,6.3e13) (0.05,1.6e13) (0.075,1.6e12) (0.1,6.3e10) (0.12,1e7) (0.125,1e5) (0.13,1e4) (0.15,5e3) (0.175,4e3) (0.2,3.2e3) (0.225,2.5e3) (0.25,2e3) (0.275,1.3e3) (0.3,1e3) (0.325,4e2) (0.35,8e2) (0.375,2e2) (0.4,1e2) (0.425,1.6e2) (0.45,2.5e2) (0.475,4e2) (0.5,8e2)};
\addplot[sCB] coordinates {(-0.5,5e2) (-0.475,2e2) (-0.45,4e2) (-0.425,8e2) (-0.4,8e2) (-0.375,4e2) (-0.35,1.6e2) (-0.325,4e2) (-0.3,1e3) (-0.275,1e2) (-0.26,2.5e1) (-0.25,3.2e2) (-0.225,1.6e3) (-0.2,1e3) (-0.175,2.5e3) (-0.16,1.6e4) (-0.15,1e6) (-0.125,1e9) (-0.1,1e11) (-0.075,2e12) (-0.05,2e13) (-0.025,8e13) (0,1.3e14) (0.025,8e13) (0.05,2.5e13) (0.075,3.2e12) (0.1,1.6e11) (0.125,3.2e8) (0.14,1e6) (0.15,3.2e4) (0.175,3.2e3) (0.2,1.6e3) (0.25,1e3) (0.3,6.3e2) (0.35,5e2) (0.375,2e2) (0.4,1e2) (0.425,1.6e2) (0.45,3.2e2) (0.475,5e2) (0.5,8e2)};
\addplot[sAR] coordinates {(-0.5,5e2) (-0.45,4e2) (-0.4,6.3e2) (-0.35,4e2) (-0.325,1e2) (-0.31,6.3) (-0.3,1.6e1) (-0.275,1e2) (-0.25,1e3) (-0.225,3.2e3) (-0.2,1.6e3) (-0.175,4e3) (-0.15,3.2e3) (-0.14,5e2) (-0.13,1e4) (-0.125,1e6) (-0.1,1e9) (-0.075,1e10) (-0.05,5e10) (-0.025,1e11) (0,1.3e11) (0.025,1e11) (0.05,6.3e10) (0.075,1e10) (0.1,3.2e8) (0.12,1e6) (0.125,3.2e4) (0.15,6.3e2) (0.175,3.2e2) (0.2,2e2) (0.225,2e2) (0.25,2e2) (0.275,1.6e2) (0.3,2e2) (0.325,6.3e1) (0.35,1e1) (0.375,1e2) (0.4,1e2) (0.45,4e2) (0.5,8e2)};
\addplot[sCR] coordinates {(-0.5,4e2) (-0.45,3.2e2) (-0.4,6.3e2) (-0.35,3.2e2) (-0.325,3.2e1) (-0.3,3.2e2) (-0.25,6.3e2) (-0.225,2e3) (-0.2,2e3) (-0.175,4e3) (-0.15,1e4) (-0.125,1e7) (-0.1,3.2e9) (-0.075,2.5e10) (-0.05,1e11) (-0.025,2e11) (0,2e11) (0.025,1.6e11) (0.05,8e10) (0.075,2e10) (0.1,1e9) (0.125,3.2e6) (0.15,3.2e3) (0.175,1e3) (0.2,4e2) (0.25,2e2) (0.3,1.6e2) (0.325,1e2) (0.35,2e1) (0.375,6.3e1) (0.4,1e2) (0.45,2.5e2) (0.5,8e2)};
\addplot[sHI] coordinates {(-0.5,2.5e3) (-0.4,5e3) (-0.3,1.3e4) (-0.2,3.2e4) (-0.1,8.9e4) (-0.05,1.6e5) (-0.025,3.2e5) (-0.0125,4e5) (0,4e5) (0.0125,4e5) (0.025,3.5e5) (0.05,1.4e5) (0.1,8e4) (0.2,2.8e4) (0.3,1e4) (0.4,5e3) (0.5,2.5e3)};
\addplot[sVL, forget plot] coordinates {(-0.074,10) (-0.074,1e15)};
\addplot[sVL, forget plot] coordinates {(0.074,10) (0.074,1e15)};
\node[font=\fontsize{13}{15}\selectfont] at (axis cs:0.255,3.2e11) {z=9.0};
\legend{Achromatic Beam, Chromatic Beam, Achromatic Residuals, Chromatic Residuals, HI Signal}
\end{axis}
\begin{axis}[scale only axis, width=350pt, height=178pt, at={(56pt,101pt)}, xmin=-0.5, xmax=0.5, ymin=0, ymax=1, axis x line*=top, hide y axis, x axis line style={draw=none}, xtick={-0.4,-0.2,0,0.2,0.4}, xticklabels={-768,-384,0,384,768}, xtick style={draw=none}, tick label style={font=\fontsize{10.5}{12}\selectfont}]
\end{axis}

% ================= row 4 right, z = 9.0 =================
\begin{axis}[scale only axis, width=350pt, height=178pt, name=A8, at={(475pt,101pt)}, xmin=-0.5, xmax=0.5, ymode=log, ymin=10, ymax=1e15, xtick={-0.4,-0.3,-0.2,-0.1,0,0.1,0.2,0.3,0.4}, xticklabels={-0.4,,-0.2,,0.0,,0.2,,0.4}, ytick={1e1,1e2,1e3,1e4,1e5,1e6,1e7,1e8,1e9,1e10,1e11,1e12,1e13,1e14,1e15}, yticklabels={10\textsuperscript{1},10\textsuperscript{2},10\textsuperscript{3},10\textsuperscript{4},10\textsuperscript{5},10\textsuperscript{6},10\textsuperscript{7},10\textsuperscript{8},10\textsuperscript{9},10\textsuperscript{10},10\textsuperscript{11},10\textsuperscript{12},10\textsuperscript{13},10\textsuperscript{14},10\textsuperscript{15}}, xmajorgrids, ymajorgrids, major grid style={black, line width=0.5pt, dash pattern=on 0.8pt off 1.6pt}, axis line style={black, line width=1pt}, tick style={black, line width=0.6pt}, major tick length=3pt, minor y tick style={draw=none}, tick label style={font=\fontsize{10.5}{12}\selectfont}]
\addplot[sAB] coordinates {(-0.5,1e2) (-0.475,1.3e2) (-0.45,2e2) (-0.425,1e2) (-0.4,2e2) (-0.375,3.2e2) (-0.35,4e2) (-0.325,3.2e2) (-0.3,6.3e2) (-0.275,1e3) (-0.25,2e3) (-0.225,3.2e3) (-0.2,4e3) (-0.175,5e3) (-0.16,3.2e3) (-0.15,1e7) (-0.14,1e9) (-0.125,3.2e10) (-0.1,3.2e11) (-0.075,2e12) (-0.05,8e12) (-0.025,2e13) (0,3.2e13) (0.025,2.5e13) (0.05,1e13) (0.075,2e12) (0.1,1.6e11) (0.125,6.3e9) (0.14,1e8) (0.15,1e6) (0.16,6.3e3) (0.175,1e4) (0.2,5e3) (0.225,3.2e3) (0.25,2.5e3) (0.275,1.6e3) (0.3,8e2) (0.325,6.3e2) (0.35,4e2) (0.375,2.5e2) (0.4,1.6e2) (0.425,1.6e2) (0.45,1e2) (0.475,1e2) (0.5,3.2e1)};
\addplot[sCB] coordinates {(-0.5,6.3e1) (-0.475,8e1) (-0.45,3.2e1) (-0.425,1.3e2) (-0.4,1.3e1) (-0.375,6.3e1) (-0.35,2e2) (-0.325,1.3e2) (-0.3,3.2e2) (-0.275,2e2) (-0.25,3.2e2) (-0.225,2.5e2) (-0.2,6.3e2) (-0.175,4e3) (-0.16,1e5) (-0.15,1e8) (-0.125,4e10) (-0.1,6.3e11) (-0.075,3.2e12) (-0.05,1.3e13) (-0.025,2.5e13) (0,4e13) (0.025,2.8e13) (0.05,1.1e13) (0.075,2.5e12) (0.1,2.5e11) (0.125,1e10) (0.14,3.2e8) (0.15,1e7) (0.16,3.2e5) (0.175,1e4) (0.2,3.2e3) (0.25,1e3) (0.3,4e2) (0.325,1e2) (0.35,3.2e2) (0.375,6.3e1) (0.4,1.3e2) (0.425,3.2e1) (0.45,6.3e1) (0.475,2.5e1) (0.5,1e1)};
\addplot[sAR] coordinates {(-0.5,3.2e1) (-0.45,4e1) (-0.4,3.2e1) (-0.375,1.6e1) (-0.35,3.2e1) (-0.3,1e1) (-0.25,6.3) (-0.2,1e1) (-0.175,1.6e1) (-0.16,1e3) (-0.15,1e6) (-0.14,3.2e8) (-0.125,1e10) (-0.1,5e10) (-0.075,1e11) (-0.05,1.6e11) (-0.025,2e11) (0,2e11) (0.025,1.6e11) (0.05,8e10) (0.075,3.2e10) (0.1,6.3e9) (0.125,3.2e8) (0.14,1e7) (0.15,1e4) (0.16,1e2) (0.175,6.3e1) (0.2,3.2e1) (0.25,1.6e1) (0.3,1e1) (0.35,2.5e1) (0.4,3.2e1) (0.45,2e1) (0.5,1.6e1)};
\addplot[sCR] coordinates {(-0.5,2e1) (-0.45,5e1) (-0.4,3.2e1) (-0.35,6.3e1) (-0.3,8e1) (-0.25,1.6e2) (-0.2,5e2) (-0.175,1.6e3) (-0.16,3.2e4) (-0.15,1e7) (-0.14,1e9) (-0.125,1.6e10) (-0.1,8e10) (-0.075,1.3e11) (-0.05,1.6e11) (-0.025,2e11) (0,2.2e11) (0.025,2e11) (0.05,1e11) (0.075,4e10) (0.1,6.3e9) (0.125,3.2e8) (0.14,1e7) (0.15,1e5) (0.16,6.3e3) (0.175,2.5e3) (0.2,1e3) (0.25,2e2) (0.3,1e2) (0.35,6.3e1) (0.4,5e1) (0.45,3.2e1) (0.5,1e1)};
\addplot[sHI] coordinates {(-0.5,2.5e3) (-0.4,5e3) (-0.3,1.3e4) (-0.2,3.2e4) (-0.1,8.9e4) (-0.05,1.6e5) (-0.025,3.2e5) (-0.0125,3.5e5) (0,3.5e5) (0.0125,3.5e5) (0.025,3.2e5) (0.05,1.3e5) (0.1,8e4) (0.2,2.8e4) (0.3,1.1e4) (0.4,5e3) (0.5,2.5e3)};
\addplot[sVL, forget plot] coordinates {(-0.1,10) (-0.1,1e15)};
\addplot[sVL, forget plot] coordinates {(0.1,10) (0.1,1e15)};
\node[font=\fontsize{13}{15}\selectfont] at (axis cs:0.255,3.2e11) {z=9.0};
\end{axis}
\begin{axis}[scale only axis, width=350pt, height=178pt, at={(475pt,101pt)}, xmin=-0.5, xmax=0.5, ymin=0, ymax=1, axis x line*=top, hide y axis, x axis line style={draw=none}, xtick={-0.4,-0.2,0,0.2,0.4}, xticklabels={-768,-384,0,384,768}, xtick style={draw=none}, tick label style={font=\fontsize{10.5}{12}\selectfont}]
\end{axis}

% ================= titles and labels =================
\node[anchor=base, font=\fontsize{19}{22}\selectfont] at ([yshift=37pt]A1.north) {7.3 m East, 12.6 m North};
\node[anchor=base, font=\fontsize{19}{22}\selectfont] at ([yshift=37pt]A2.north) {14.6 m East, 25.3 m North};
\node[anchor=base, font=\fontsize{16}{19}\selectfont] at ([yshift=16pt]A1.north) {delay (ns)};
\node[anchor=base, font=\fontsize{16}{19}\selectfont] at ([yshift=16pt]A2.north) {delay (ns)};
\node[rotate=90, font=\fontsize{15.5}{18}\selectfont] at ([xshift=-39pt]A1.west) {P(k) ($h^{-1}$Mpc)$^3$ mK$^2$};
\node[rotate=90, font=\fontsize{15.5}{18}\selectfont] at ([xshift=-39pt]A3.west) {P(k) ($h^{-1}$Mpc)$^3$ mK$^2$};
\node[rotate=90, font=\fontsize{15.5}{18}\selectfont] at ([xshift=-39pt]A5.west) {P(k) ($h^{-1}$Mpc)$^3$ mK$^2$};
\node[rotate=90, font=\fontsize{15.5}{18}\selectfont] at ([xshift=-39pt]A7.west) {P(k) ($h^{-1}$Mpc)$^3$ mK$^2$};
\node[anchor=base, font=\fontsize{16}{19}\selectfont] at ([yshift=-31pt]A7.south) {$k_\parallel$ \,($h$Mpc$^{-1}$)};
\node[anchor=base, font=\fontsize{16}{19}\selectfont] at ([yshift=-31pt]A8.south) {$k_\parallel$ \,($h$Mpc$^{-1}$)};
\end{tikzpicture}
\end{document}
